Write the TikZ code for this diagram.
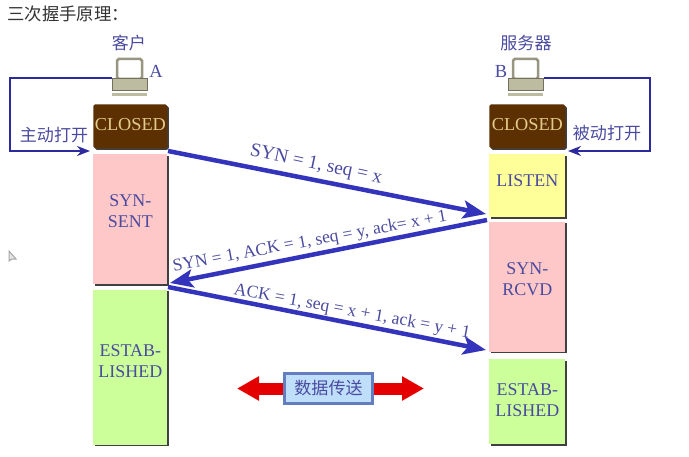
\documentclass[tikz,border=0pt]{standalone}
\usepackage{fontspec}
\setmainfont{Liberation Serif}
\newfontfamily\cjk{Noto Sans CJK SC}
\usepackage{xcolor}
\usepackage{tikz}
\usetikzlibrary{arrows.meta,positioning,shadows}
\definecolor{labelblue}{RGB}{74,74,160}
\definecolor{flowblue}{RGB}{51,51,187}
\definecolor{closedbrown}{RGB}{92,48,0}
\definecolor{closedtan}{RGB}{226,202,140}
\definecolor{synpink}{RGB}{255,200,200}
\definecolor{listenyellow}{RGB}{255,255,153}
\definecolor{estabgreen}{RGB}{204,255,153}
\definecolor{pcgray}{RGB}{190,188,160}
\definecolor{datablue}{RGB}{190,222,250}
\definecolor{dataedge}{RGB}{100,125,190}

\begin{document}
\begin{tikzpicture}[
    x=0.02cm, y=-0.02cm,
    statebox/.style={fill=#1, minimum width=1.48cm, inner sep=0pt, align=center, text=labelblue, font=\fontsize{10.2}{12}\selectfont,
        general shadow={fill=black!75, shadow xshift=0.03cm, shadow yshift=-0.03cm}},
    closedbox/.style={statebox=closedbrown, minimum height=0.88cm, text depth=0.08cm, text=closedtan, font=\fontsize{10.4}{12}\selectfont, rounded corners=1pt},
    flow/.style={draw=flowblue, line width=0.09cm, -{Stealth[length=0.46cm,width=0.36cm,inset=0.1cm]}},
    openloop/.style={draw=flowblue!85!black, line width=0.05cm, -{Stealth[length=0.26cm,width=0.2cm]}},
    msg/.style={text=labelblue, inner sep=0pt, font=\fontsize{10}{12}\selectfont},
    cjklabel/.style={text=labelblue, inner sep=0pt, font=\cjk\fontsize{9.7}{11}\selectfont},
    redarrow/.style={red!90!black, line width=0.24cm, -{Triangle[length=0.44cm,width=0.46cm]}},
]
\useasboundingbox (0,0) rectangle (689,456);

\node[anchor=west, inner sep=0pt, text=black!80, font=\cjk\fontsize{9.9}{11}\selectfont] (title) at (7,14) {三次握手原理：};

% client column
\node[closedbox, anchor=north west] (closedA) at (93,104) {CLOSED};
\node[statebox=synpink, minimum height=2.6cm, text depth=0.32cm, below=0.1cm of closedA] (sentA) {SYN-\\SENT};
\node[statebox=estabgreen, minimum height=3.1cm, text depth=0.24cm, below=0.1cm of sentA] (estabA) {ESTAB-\\LISHED};

% server column
\node[closedbox, minimum width=1.52cm, anchor=north west] (closedB) at (489,104) {CLOSED};
\node[statebox=listenyellow, minimum width=1.52cm, minimum height=1.26cm, text depth=0.2cm, below=0.1cm of closedB] (listenB) {LISTEN};
\node[statebox=synpink, minimum width=1.52cm, minimum height=2.6cm, text depth=0.32cm, below=0.08cm of listenB] (rcvdB) {SYN-\\RCVD};
\node[statebox=estabgreen, minimum width=1.52cm, minimum height=1.7cm, text depth=0.08cm, below=0.14cm of rcvdB] (estabB) {ESTAB-\\LISHED};

% computers
\foreach \name/\px in {A/112, B/508} {
    \draw[pcgray!80!black, fill=white, line width=0.05cm, rounded corners=1pt] (\px+5,59) rectangle (\px+30,79);
    \node[fill=pcgray, draw=pcgray!60!black, line width=0.02cm, inner sep=0pt, minimum width=0.7cm, minimum height=0.24cm, anchor=north west] (pc\name) at (\px,78) {};
    \fill[pcgray] (\px,93) rectangle (\px+35,96);
}
\node[cjklabel, above=0.54cm of pcA, xshift=-0.02cm] (nameA) {客户};
\node[cjklabel, above=0.54cm of pcB] (nameB) {服务器};
\node[msg, font=\fontsize{10.5}{12}\selectfont] (letterA) at (156,71) {A};
\node[msg, font=\fontsize{10.5}{12}\selectfont] (letterB) at (501,71) {B};

% open arrows
\coordinate (inA) at (90,151);
\coordinate (inB) at (568,151);
\draw[openloop] (pcA.north west) -- (10,78) |- (inA);
\draw[openloop] (pcB.north east) -- (650,78) |- (inB);
\node[cjklabel] (openA) at (54,135) {主动打开};
\node[cjklabel] (openB) at (607,133) {被动打开};

% handshake
\coordinate (s1) at (168,151);
\coordinate (e1) at (486,214);
\coordinate (s2) at (487,220);
\coordinate (e2) at (170,283);
\coordinate (s3) at (168,287);
\coordinate (e3) at (486,350);
\draw[flow] (s1) -- (e1);
\draw[flow] (s2) -- (e2);
\draw[flow] (s3) -- (e3);
\node[msg, font=\fontsize{11}{12}\selectfont, rotate=-12] (synlabel) at (316,165) {SYN = 1, seq = x};
\node[msg, rotate=10.4] (synacklabel) at (310,242) {SYN = 1, ACK = 1, seq = y, ack= x + 1};
\node[msg, rotate=-10.4] (acklabel) at (352,312) {ACK = 1, seq = x + 1, ack = y + 1};

% data transfer
\node[draw=dataedge, line width=0.06cm, fill=datablue, text=labelblue, minimum width=1.76cm, minimum height=0.6cm, inner sep=0pt, font=\cjk\fontsize{9.7}{11}\selectfont] (data) at (328.5,388.5) {数据传送};
\coordinate (dataL) at (237,388.5);
\coordinate (dataR) at (424,388.5);
\draw[redarrow] (data.west) -- (dataL);
\draw[redarrow] (data.east) -- (dataR);

% stray cursor
\draw[black!35, line width=0.02cm, fill=black!10] (9,251) -- (9,261) -- (12,259) -- (16,259) -- cycle;

\end{tikzpicture}
\end{document}
